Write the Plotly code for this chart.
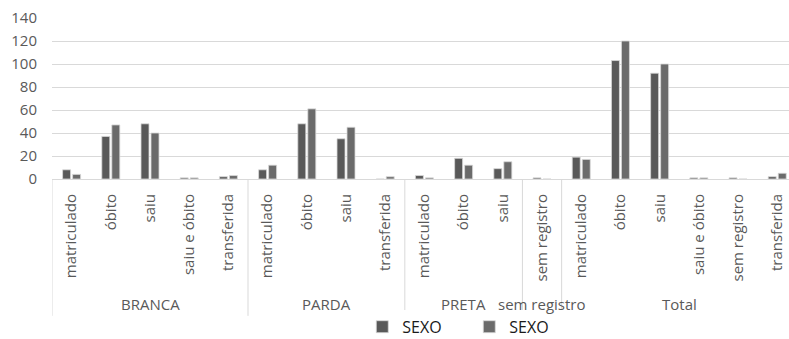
import plotly.graph_objects as go

groups = ["BRANCA"]*5 + ["PARDA"]*4 + ["PRETA"]*3 + ["sem registro"] + ["Total"]*6
cats = ["matriculado", "óbito", "saiu", "saiu e óbito", "transferida",
        "matriculado", "óbito", "saiu", "transferida",
        "matriculado", "óbito", "saiu",
        "sem registro",
        "matriculado", "óbito", "saiu", "saiu e óbito", "sem registro", "transferida"]
serie1 = [8, 37, 48, 1, 2, 8, 48, 35, 0, 3, 18, 9, 1, 19, 103, 92, 1, 1, 2]
serie2 = [4, 47, 40, 1, 3, 12, 61, 45, 2, 1, 12, 15, 0, 17, 120, 100, 1, 0, 5]
names = ["SEXO", "SEXO"]
colors = ["#595959", "#6b6b6b"]

keys = [g + "|" + c for g, c in zip(groups, cats)]

fig = go.Figure()
for vals, nm, c in zip([serie1, serie2], names, colors):
    fig.add_trace(go.Bar(x=keys, y=vals, name=nm,
                         marker=dict(color=c, line=dict(color="#d9d9d9", width=0.8))))

font = "Open Sans"
axis_col = "#d9d9d9"
lab_col = "#595959"

group_names = []
for g in groups:
    if g not in group_names:
        group_names.append(g)
annotations = []
shapes = []
div_bottom = -0.85
for g in group_names:
    idx = [i for i, gg in enumerate(groups) if gg == g]
    center = (idx[0] + idx[-1]) / 2
    annotations.append(dict(x=center, y=-0.775, xref="x", yref="paper", text=g,
                            showarrow=False, xanchor="center", yanchor="middle",
                            font=dict(family=font, size=15, color=lab_col)))
    shapes.append(dict(type="line", xref="x", yref="paper", x0=idx[0] - 0.5, x1=idx[0] - 0.5,
                       y0=0, y1=div_bottom, line=dict(color=axis_col, width=1)))

fig.update_layout(
    width=789, height=339,
    margin=dict(l=52, r=0, t=18, b=160, autoexpand=False),
    paper_bgcolor="white", plot_bgcolor="white",
    barmode="group", bargap=0.49, bargroupgap=0.2,
    font=dict(family=font, size=15, color=lab_col),
    showlegend=True,
    legend=dict(orientation="h", x=0.421, xanchor="left", yref="container",
                y=0.036, yanchor="middle",
                font=dict(family=font, size=16, color="#1a1a1a"), itemwidth=30,
                entrywidth=62, entrywidthmode="pixels"),
    annotations=annotations, shapes=shapes,
)
fig.update_yaxes(range=[0, 140], dtick=20, showgrid=True, gridcolor=axis_col,
                 zeroline=False, ticks="", ticklabelstandoff=14, automargin=False,
                 tickfont=dict(family=font, size=15, color=lab_col))
fig.update_xaxes(type="category", range=[-0.5, 18.3], tickangle=-90,
                 tickvals=keys, ticktext=cats, ticks="", ticklabelstandoff=8,
                 showline=True, linecolor=axis_col, showgrid=False, automargin=False,
                 tickfont=dict(family=font, size=15, color=lab_col))
fig.write_html("out.html")
